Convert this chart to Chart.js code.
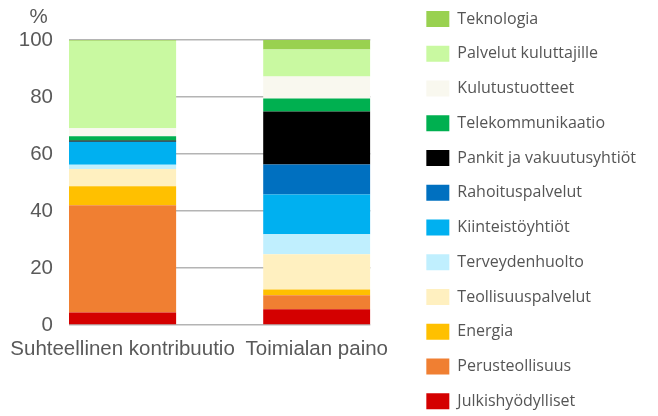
<!DOCTYPE html>
<html>
<head>
<meta charset="utf-8">
<script src="https://cdn.jsdelivr.net/npm/chart.js@4/dist/chart.umd.min.js"></script>
<style>
  html, body { margin: 0; padding: 0; background: #ffffff; }
  #wrap { width: 658px; height: 416px; }
</style>
</head>
<body>
<div id="wrap"><canvas id="c" width="658" height="416"></canvas></div>
<script>
// ---- data ----
const categories = ['Suhteellinen kontribuutio', 'Toimialan paino'];
const sectors = ['Julkishyödylliset', 'Perusteollisuus', 'Energia', 'Teollisuuspalvelut',
  'Terveydenhuolto', 'Kiinteistöyhtiöt', 'Rahoituspalvelut', 'Pankit ja vakuutusyhtiöt',
  'Telekommunikaatio', 'Kulutustuotteet', 'Palvelut kuluttajille', 'Teknologia'];
const contribution = [4.4, 37.6, 6.7, 6.0, 1.5, 8.1, 0.0, 0.4, 1.5, 2.8, 30.7, 0.3];
const weight = [5.5, 4.9, 2.1, 12.3, 7.0, 14.0, 10.5, 18.6, 4.6, 7.7, 9.5, 3.3];
const yTicks = [0, 20, 40, 60, 80, 100];
const unitLabel = '%';

// ---- styles ----
const colors = ['#d40000', '#f07f32', '#ffc000', '#fff0c0', '#c0effe', '#00b0f0',
  '#0070c0', '#000000', '#00b050', '#f9f8ef', '#c9f9a1', '#99d150'];
const axisFont = { family: "'Liberation Sans', Arial, sans-serif", size: 20.5 };
const axisColor = '#595959';
const halfBar = 0.2758;

const series = [contribution, weight];
const datasets = sectors.map((name, k) => ({
  label: name,
  data: categories.map((c, i) => ({ x: i, y: series[i][k] })),
  backgroundColor: colors[k],
  borderColor: colors[k],
  borderWidth: 0,
  xAxisID: 'x',
  yAxisID: 'y',
  categoryPercentage: 1,
  barPercentage: 2 * halfBar
}));

const unitPlugin = {
  id: 'unitLabel',
  afterDraw(chart) {
    const s = chart.scales.y;
    const ctx = chart.ctx;
    ctx.save();
    ctx.font = axisFont.size + 'px ' + axisFont.family;
    ctx.fillStyle = axisColor;
    ctx.textAlign = 'center';
    ctx.textBaseline = 'middle';
    ctx.fillText(unitLabel, s.right - 30.5, s.top - 23);
    ctx.restore();
  }
};

new Chart(document.getElementById('c'), {
  type: 'bar',
  data: { datasets },
  plugins: [unitPlugin],
  options: {
    responsive: false,
    devicePixelRatio: 1,
    animation: false,
    layout: { padding: { top: 7, right: 12, bottom: 0, left: 0 } },
    plugins: {
      tooltip: { enabled: false },
      title: { display: false },
      legend: {
        position: 'right',
        align: 'start',
        reverse: true,
        maxWidth: 320,
        labels: {
          boxWidth: 23,
          boxHeight: 16,
          padding: 4,
          color: '#555555',
          font: { family: "'Open Sans', sans-serif", size: 16, lineHeight: '30.75px' },
          generateLabels(chart) {
            const items = Chart.defaults.plugins.legend.labels.generateLabels(chart);
            return items.map(it => it.datasetIndex === 0 ? it : Object.assign({}, it, { text: [it.text] }));
          }
        }
      }
    },
    scales: {
      x: {
        type: 'linear',
        position: 'bottom',
        stacked: true,
        offset: false,
        min: -halfBar,
        max: categories.length - 1 + halfBar,
        grid: { display: false, offset: false },
        border: { display: false },
        ticks: {
          font: axisFont,
          color: axisColor,
          padding: 4,
          maxRotation: 0,
          autoSkip: false,
          callback: v => (categories[v] !== undefined ? categories[v] : '')
        },
        afterBuildTicks: s => { s.ticks = categories.map((c, i) => ({ value: i })); },
        afterFit: s => { s.height = 91; s.paddingLeft = 0; s.paddingRight = 0; }
      },
      xTop: {
        type: 'linear',
        position: 'top',
        display: true,
        grid: { display: false },
        border: { display: false },
        ticks: { display: false },
        afterFit: s => { s.height = 33; }
      },
      y: {
        type: 'linear',
        position: 'left',
        stacked: true,
        min: yTicks[0],
        max: yTicks[yTicks.length - 1],
        grid: { color: '#b4b4b4', lineWidth: 1.5, drawTicks: false },
        border: { display: false },
        ticks: { font: axisFont, color: axisColor, padding: 16 },
        afterBuildTicks: s => { s.ticks = yTicks.map(v => ({ value: v })); },
        afterFit: s => { s.width = 69; }
      },
      yRight: {
        type: 'linear',
        position: 'right',
        display: true,
        grid: { display: false },
        border: { display: false },
        ticks: { display: false },
        afterFit: s => { s.width = 52; }
      }
    }
  }
});
</script>
</body>
</html>
